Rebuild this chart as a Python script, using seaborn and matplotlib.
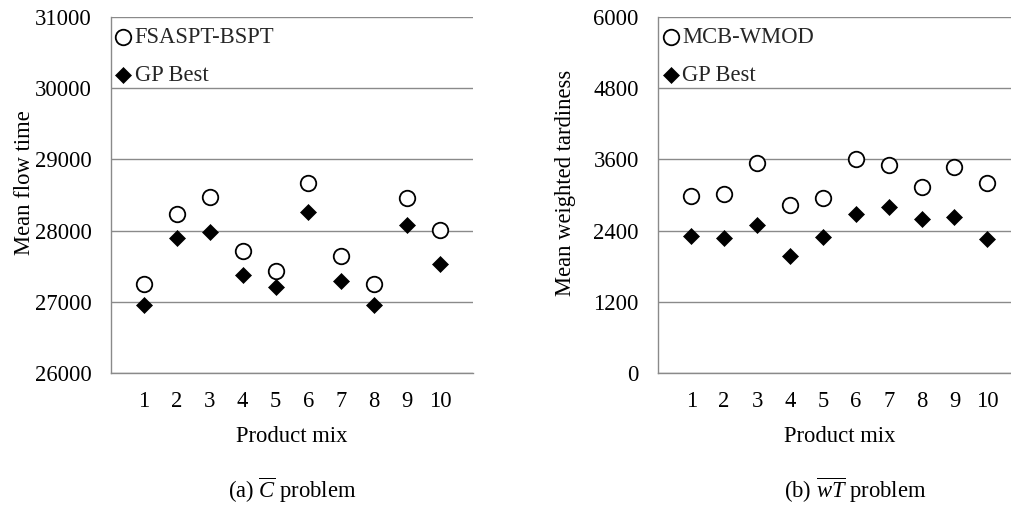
import matplotlib
matplotlib.use("Agg")
import matplotlib.pyplot as plt
import seaborn as sns
import pandas as pd

# ---- data ----
product_mix = [1, 2, 3, 4, 5, 6, 7, 8, 9, 10]
fsaspt_bspt = [27244, 28239, 28469, 27709, 27427, 28667, 27638, 27244, 28455, 28009]
gp_best_c = [26953, 27897, 27986, 27371, 27202, 28258, 27296, 26948, 28075, 27535]
mcb_wmod = [2986, 3025, 3544, 2823, 2941, 3611, 3510, 3132, 3465, 3206]
gp_best_wt = [2304, 2270, 2490, 1966, 2287, 2676, 2789, 2597, 2631, 2254]

yticks_c = [26000, 27000, 28000, 29000, 30000, 31000]
yticks_wt = [0, 1200, 2400, 3600, 4800, 6000]

sns.set_theme(style="white")
plt.rcParams['font.family'] = ['Liberation Serif', 'DejaVu Serif']
plt.rcParams['mathtext.fontset'] = 'custom'
plt.rcParams['mathtext.rm'] = 'Liberation Serif'
plt.rcParams['mathtext.it'] = 'Liberation Serif:italic'

GRAY = '#8a8a8a'
FS = 16.3

fig = plt.figure(figsize=(10.11, 5.18), dpi=100)
W, H = 1011, 518
ax_h = 355.4 / H
ax_b = (H - 372.7) / H
ax_w = 362 / W
ax1 = fig.add_axes([111 / W, ax_b, ax_w, ax_h])
ax2 = fig.add_axes([658.3 / W, ax_b, ax_w, ax_h])


def draw(ax, base, gp, base_label, yticks, ylabel, ylab_x, caption, cap_x):
    df = pd.DataFrame({'mix': product_mix, 'base': base, 'gp': gp})
    sns.scatterplot(data=df, x='mix', y='base', ax=ax, marker='o', s=125,
                    color='white', edgecolor='black', linewidth=1.3,
                    label=base_label, zorder=3)
    sns.scatterplot(data=df, x='mix', y='gp', ax=ax, marker='D', s=66,
                    color='black', edgecolor='black', linewidth=0.5,
                    label='GP Best', zorder=3)
    ax.set_xlim(0, 11)
    ax.set_ylim(yticks[0], yticks[-1])
    ax.set_xticks(range(0, 12))
    ax.set_xticklabels([''] + [str(m) for m in product_mix] + [''])
    ax.set_yticks(yticks)
    ax.set_yticklabels([str(t) for t in yticks])
    ax.yaxis.grid(True, color=GRAY, linewidth=1.0)
    ax.xaxis.grid(False)
    ax.set_axisbelow(True)
    for s in ['top', 'right']:
        ax.spines[s].set_visible(False)
    for s in ['left', 'bottom']:
        ax.spines[s].set_color(GRAY)
        ax.spines[s].set_linewidth(1.0)
    ax.tick_params(axis='x', which='major', direction='out', length=4.5,
                   width=1.0, color=GRAY, pad=9, labelsize=FS, labelcolor='black')
    ax.tick_params(axis='y', which='major', direction='out', length=4,
                   width=1.0, color=GRAY, pad=10, labelsize=FS, labelcolor='black')
    ax.set_xlabel('Product mix', fontsize=FS, labelpad=9.5, color='black')
    ax.set_ylabel(ylabel, fontsize=FS, color='black')
    ax.yaxis.set_label_coords(ylab_x, 0.534)
    ax.yaxis.label.set_verticalalignment('center')
    ax.set_facecolor('white')
    ax.legend(loc='upper left', bbox_to_anchor=(0.0, 0.985), frameon=False,
              fontsize=FS, handlelength=0.7, handletextpad=0.15,
              labelspacing=0.76, borderaxespad=0.2, borderpad=0.0)
    fig.text(cap_x / W, 1 - 490 / H, caption, ha='center', va='center',
             fontsize=FS, color='black')


draw(ax1, fsaspt_bspt, gp_best_c, 'FSASPT-BSPT', yticks_c, 'Mean flow time',
     (25 - 111) / 362, r'(a) $\overline{C}$ problem', 292)
draw(ax2, mcb_wmod, gp_best_wt, 'MCB-WMOD', yticks_wt, 'Mean weighted tardiness',
     (566 - 658.3) / 362, r'(b) $\overline{wT}$ problem', 855)

fig.savefig('out.png', dpi=100, facecolor='white')
